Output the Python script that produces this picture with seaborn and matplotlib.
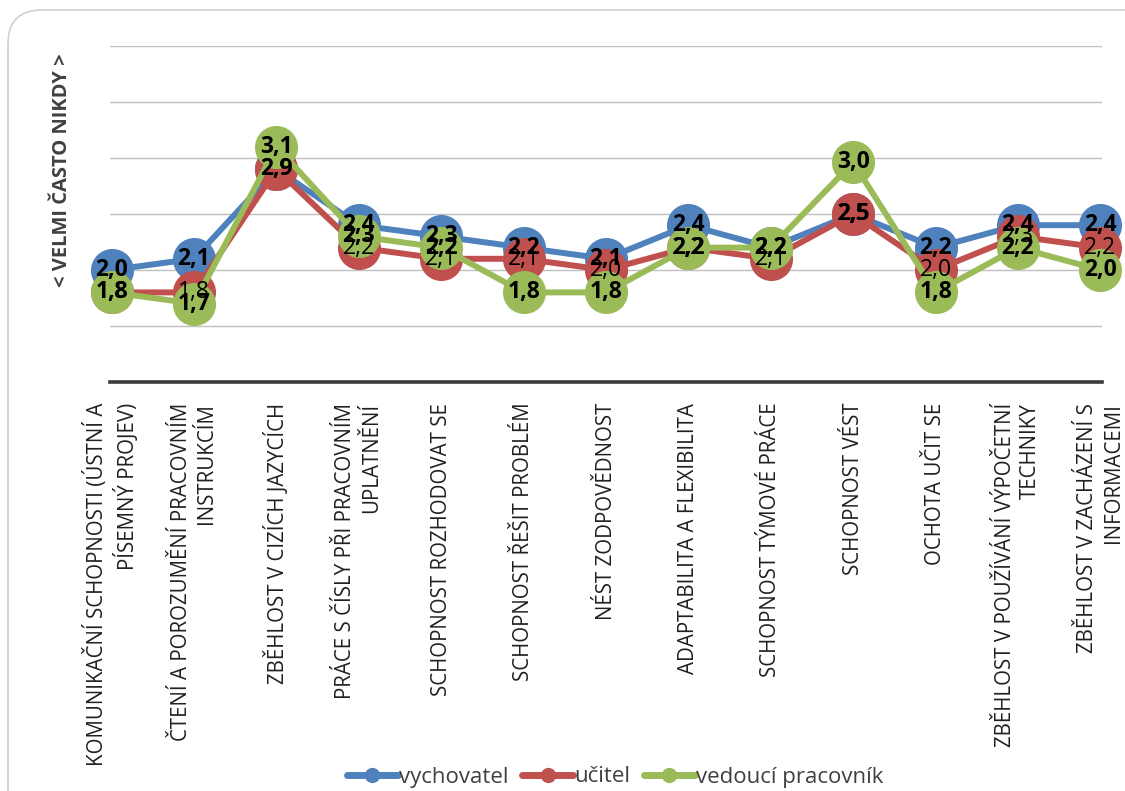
import matplotlib
matplotlib.use("Agg")
import matplotlib.pyplot as plt
from matplotlib.lines import Line2D
from matplotlib.patches import FancyBboxPatch
import seaborn as sns
import pandas as pd

# Competence categories (x axis)
categories = [
    "KOMUNIKAČNÍ SCHOPNOSTI (ÚSTNÍ A\nPÍSEMNÝ PROJEV)",
    "ČTENÍ A POROZUMĚNÍ PRACOVNÍM\nINSTRUKCÍM",
    "ZBĚHLOST V CIZÍCH JAZYCÍCH",
    "PRÁCE S ČÍSLY PŘI PRACOVNÍM\nUPLATNĚNÍ",
    "SCHOPNOST ROZHODOVAT SE",
    "SCHOPNOST ŘEŠIT PROBLÉM",
    "NÉST ZODPOVĚDNOST",
    "ADAPTABILITA A FLEXIBILITA",
    "SCHOPNOST TÝMOVÉ PRÁCE",
    "SCHOPNOST VÉST",
    "OCHOTA UČIT SE",
    "ZBĚHLOST V POUŽÍVÁNÍ VÝPOČETNÍ\nTECHNIKY",
    "ZBĚHLOST V ZACHÁZENÍ S\nINFORMACEMI",
]

series_names = ["vychovatel", "učitel", "vedoucí pracovník"]
vychovatel = [2.0, 2.1, 2.9, 2.4, 2.3, 2.2, 2.1, 2.4, 2.2, 2.5, 2.2, 2.4, 2.4]
ucitel = [1.8, 1.8, 2.9, 2.2, 2.1, 2.1, 2.0, 2.2, 2.1, 2.5, 2.0, 2.3, 2.2]
vedouci = [1.8, 1.7, 3.1, 2.3, 2.2, 1.8, 1.8, 2.2, 2.2, 2.96, 1.8, 2.2, 2.0]

colors = ["#4F81BD", "#C0504D", "#9BBB59"]
label_weights = ["bold", "normal", "bold"]

rows = []
for name, vals in zip(series_names, [vychovatel, ucitel, vedouci]):
    for i, v in enumerate(vals):
        rows.append({"idx": i, "value": v, "series": name})
df = pd.DataFrame(rows)

sns.set_theme(style="white")
plt.rcParams["font.family"] = ["Open Sans", "DejaVu Sans"]

W, H = 1125, 791
fig = plt.figure(figsize=(W / 100, H / 100), dpi=100)
ax = fig.add_axes([110 / W, 1 - 382 / H, (1102 - 110) / W, (382 - 46) / H])

# rounded chart frame
frame = FancyBboxPatch((8 / W, -0.05), 1.2, 1 - 10 / H + 0.05,
                       boxstyle="round,pad=0,rounding_size=0.03",
                       transform=fig.transFigure, facecolor="none",
                       edgecolor="#D0D0D0", linewidth=1.2, zorder=0,
                       mutation_aspect=W / H)
fig.patches.append(frame)

sns.lineplot(data=df, x="idx", y="value", hue="series", hue_order=series_names,
             palette=colors, marker="o", markersize=31, markeredgewidth=0,
             linewidth=4.3, sort=False, legend=False, ax=ax, clip_on=False)
for ln in ax.lines:
    ln.set_clip_on(False)

# data labels
for name, vals, w in zip(series_names, [vychovatel, ucitel, vedouci], label_weights):
    for i, v in enumerate(vals):
        ax.text(i, v, f"{v:.1f}".replace(".", ","), ha="center", va="center",
                fontsize=16.5, fontweight=w, color="black", zorder=10)

ax.set_xlim(-0.02, 12.02)
ax.set_ylim(1.0, 4.0)
ax.set_yticks([1.5, 2.0, 2.5, 3.0, 3.5, 4.0])
ax.yaxis.grid(True, color="#BFBFBF", linewidth=1.0)
ax.set_axisbelow(True)
ax.tick_params(axis="y", left=False, labelleft=False)
for s in ["left", "right", "top"]:
    ax.spines[s].set_visible(False)
ax.spines["bottom"].set_color("#3A3A3A")
ax.spines["bottom"].set_linewidth(2.6)

ax.set_xticks(range(len(categories)))
ax.set_xticklabels(categories, rotation=90, ha="center", va="top",
                   multialignment="right", fontsize=14.8, color="#202020",
                   linespacing=1.3)
ax.tick_params(axis="x", bottom=False, pad=9)
ax.set_xlabel("")
ax.set_ylabel("")

fig.text(62 / W, 1 - 170 / H, "< VELMI ČASTO NIKDY >", rotation=90,
         ha="center", va="center", fontsize=14.5, fontweight="bold", color="#404040")

handles = [Line2D([0], [0], color=c, linewidth=5, marker="o", markersize=11,
                  markeredgewidth=0) for c in colors]
fig.legend(handles, series_names, loc="center", bbox_to_anchor=(615 / W, 1 - 777 / H),
           ncol=3, frameon=False, fontsize=16, handlelength=2.3, handletextpad=0.05,
           columnspacing=0.6, labelcolor="#404040")

fig.savefig("out.png", dpi=100)
